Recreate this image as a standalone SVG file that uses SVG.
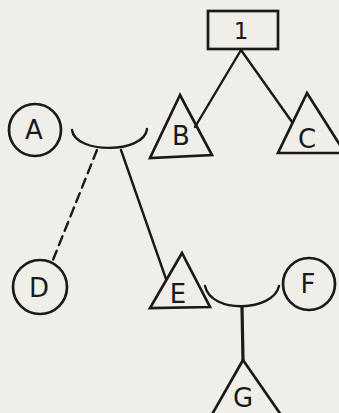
<svg xmlns="http://www.w3.org/2000/svg" width="339" height="413" viewBox="0 0 339 413">
<style>
.bg{fill:#efeee9}
.n{fill:none;stroke:#1a1a1a;stroke-width:2.7;stroke-linejoin:miter}
.c{fill:none;stroke:#1a1a1a;stroke-width:2.4;stroke-linecap:round}
.d{stroke-dasharray:9.5 6}
.t{font-family:"DejaVu Sans","Liberation Sans",sans-serif;font-size:26px;fill:#1a1a1a;text-anchor:middle;dominant-baseline:central}
</style>
<rect class="bg" x="0" y="0" width="339" height="413"/>
<g id="connectors">
<path class="c" d="M241,50 L195,127"/>
<path class="c" d="M241,50 L292,122"/>
<path class="c" d="M72,130 C75,154 144,154 147,129"/>
<path class="c d" d="M97,150 L53,260"/>
<path class="c" d="M121,150 L166,279"/>
<path class="c" d="M205,286 C211,314 273,312 279,286"/>
<path class="c" d="M242,307 L243,360" style="stroke-width:3.2"/>
</g>
<g id="node-1">
<rect class="n" x="208" y="11" width="70" height="38"/>
<text class="t" x="241" y="31" style="font-size:23px">1</text>
</g>
<g id="node-A">
<circle class="n" cx="35" cy="130" r="26"/>
<text class="t" x="34" y="130">A</text>
</g>
<g id="node-B">
<polygon class="n" points="180,95 150,158 212,155"/>
<text class="t" x="181" y="136">B</text>
</g>
<g id="node-C">
<polygon class="n" points="307,93 278,153 345,153"/>
<text class="t" x="307" y="139">C</text>
</g>
<g id="node-D">
<circle class="n" cx="40" cy="287" r="27"/>
<text class="t" x="39" y="288">D</text>
</g>
<g id="node-E">
<polygon class="n" points="182,253 150,308 210,307"/>
<text class="t" x="178" y="294">E</text>
</g>
<g id="node-F">
<circle class="n" cx="309" cy="284" r="26"/>
<text class="t" x="308" y="284">F</text>
</g>
<g id="node-G">
<polygon class="n" points="243,360 206,425 288,425"/>
<text class="t" x="243" y="398">G</text>
</g>
</svg>
